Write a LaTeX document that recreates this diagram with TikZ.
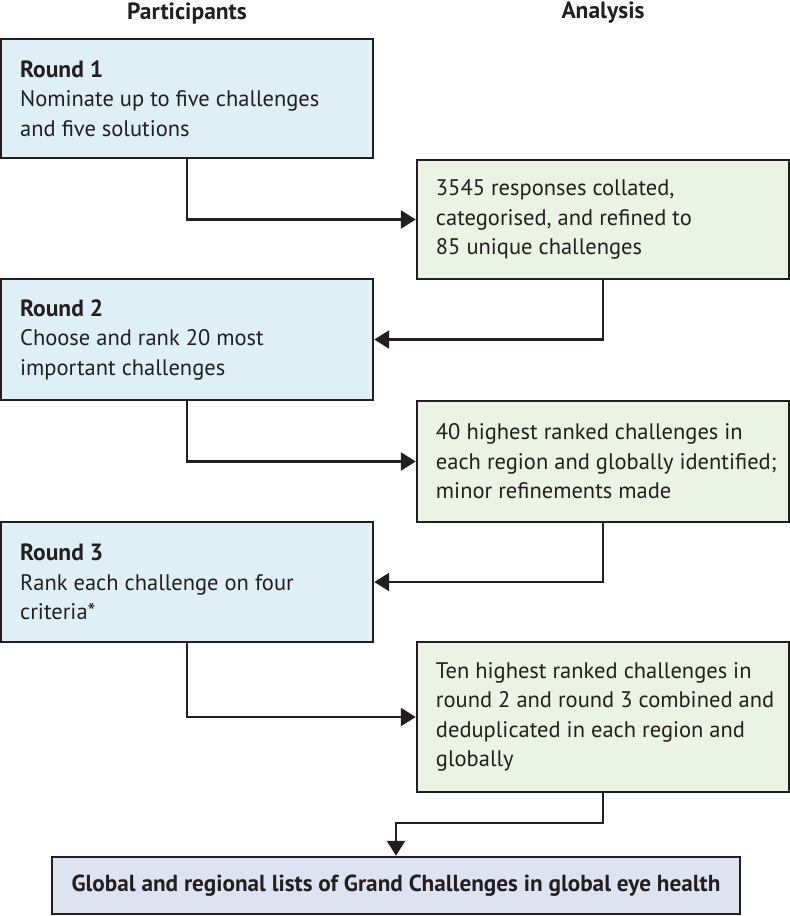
\documentclass[tikz,border=0pt]{standalone}
\usepackage{fontspec}
\setmainfont{PT Sans}
\usetikzlibrary{arrows.meta}
\definecolor{lineC}{HTML}{231F20}
\definecolor{blueF}{HTML}{DEEFF6}
\definecolor{greenF}{HTML}{EAF3E4}
\definecolor{finF}{HTML}{DDE3F1}
\newcommand{\rnd}[1]{{\fontsize{23.5}{29.5}\selectfont\bfseries #1}}
\begin{document}
\begin{tikzpicture}[x=1pt,y=-1pt,
  box/.style={draw=lineC, line width=2.5pt, inner sep=0pt, minimum width=371.75pt},
  pbox/.style={box, fill=blueF},
  gbox/.style={box, fill=greenF},
  fbox/.style={draw=lineC, line width=2.5pt, inner sep=0pt, fill=finF, minimum width=688pt, minimum height=57pt, font=\fontsize{23.2}{29}\selectfont\bfseries, text=lineC},
  txt/.style={anchor=west, align=left, inner sep=0pt, font=\fontsize{22.5}{29.5}\selectfont, text=lineC},
  head/.style={inner sep=0pt, font=\fontsize{23.5}{26}\selectfont\bfseries, text=lineC},
  arr/.style={draw=lineC, line width=2.5pt, -{Triangle[length=15pt,width=18pt]}}
]
\useasboundingbox (0,0) rectangle (790,916);
\node[head] (hp) at (187,13) {Participants};
\node[head] (ha) at (603,13) {Analysis};

\node[pbox, minimum height=119pt] (b1) at (187.1,98.5) {};
\node[gbox, minimum height=119pt] (g1) at (602.9,219.5) {};
\node[pbox, minimum height=121pt] (b2) at (187.1,339.5) {};
\node[gbox, minimum height=121pt] (g2) at (602.9,461.5) {};
\node[pbox, minimum height=120pt] (b3) at (187.1,582) {};
\node[gbox, minimum height=150pt] (g3) at (602.9,717) {};
\node[fbox] (fin) at (396,885.5) {Global and regional lists of Grand Challenges in global eye health};

\node[txt] (t1) at ([xshift=20pt]b1.west) {\rnd{Round 1}\\Nominate up to five challenges\\and five solutions};
\node[txt] (t2) at ([xshift=20pt]g1.west) {3545 responses collated,\\categorised, and refined to\\85 unique challenges};
\node[txt] (t3) at ([xshift=20pt]b2.west) {\rnd{Round 2}\\Choose and rank 20 most\\important challenges};
\node[txt] (t4) at ([xshift=20pt]g2.west) {40 highest ranked challenges in\\each region and globally identified;\\minor refinements made};
\node[txt] (t5) at ([xshift=20pt]b3.west) {\rnd{Round 3}\\Rank each challenge on four\\criteria*};
\node[txt] (t6) at ([xshift=20pt]g3.west) {Ten highest ranked challenges in\\round 2 and round 3 combined and\\deduplicated in each region and\\globally};

\draw[arr] (b1.south) |- (g1.west);
\draw[arr] (g1.south) |- (b2.east);
\draw[arr] (b2.south) |- (g2.west);
\draw[arr] (g2.south) |- (b3.east);
\draw[arr] (b3.south) |- (g3.west);
\coordinate (k) at (602.9,823);
\draw[arr] (g3.south) -- (k) -| (fin.north);
\end{tikzpicture}
\end{document}
